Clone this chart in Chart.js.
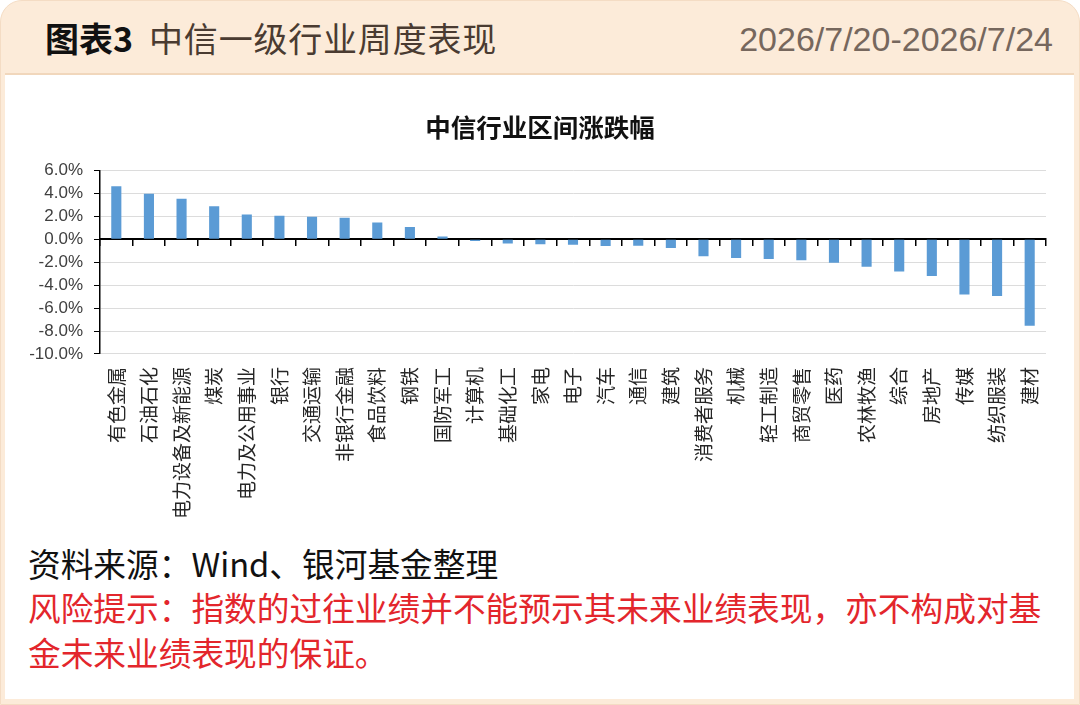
<!DOCTYPE html>
<html>
<head>
<meta charset="utf-8">
<script src="https://cdn.jsdelivr.net/npm/chart.js@4"></script>
<style>
  html, body { margin: 0; padding: 0; background: #fff; }
  #page { position: relative; width: 1080px; height: 705px; overflow: hidden; background: #fff; }
  #card { position: absolute; left: 0; top: 0; width: 1080px; height: 705px; background: #fcebd9;
          border-radius: 22px 22px 0 0; box-sizing: border-box; border: 1px solid #f4dcc4; }
  #panel { position: absolute; left: 5px; top: 73px; width: 1069px; height: 624px; background: #fff;
           border-top: 2px solid #f1d7bc; }
  #head-left { position: absolute; left: 45px; top: 15px; font-family: "Noto Sans CJK SC"; font-size: 34px;
               line-height: 46px; color: #4a3b31; letter-spacing: 0.8px; white-space: nowrap; }
  #head-left b { color: #111; font-weight: bold; margin-right: 16px; letter-spacing: 0; }
  #head-right { position: absolute; right: 27px; top: 17px; font-family: "Liberation Sans"; font-size: 34px;
                line-height: 44px; color: #76675d; white-space: nowrap; }
  #chart-box { position: absolute; left: 0; top: 80px; width: 1080px; height: 454px; }
  .foot { position: absolute; left: 28px; font-family: "Noto Sans CJK SC"; font-size: 32.7px; line-height: 44px;
          white-space: nowrap; }
  #src { top: 541px; color: #111; }
  #risk { top: 584px; color: #e3262c; width: 1040px; white-space: normal; line-height: 45px; }
</style>
</head>
<body>
<div id="page">
  <div id="card"></div>
  <div id="panel"></div>
  <div id="head-left"><b>图表3</b>中信一级行业周度表现</div>
  <div id="head-right">2026/7/20-2026/7/24</div>
  <div id="chart-box"><canvas id="c" width="1080" height="454"></canvas></div>
  <div class="foot" id="src">资料来源：Wind、银河基金整理</div>
  <div class="foot" id="risk">风险提示：指数的过往业绩并不能预示其未来业绩表现，亦不构成对基金未来业绩表现的保证。</div>
</div>
<script>
const industries = ["有色金属", "石油石化", "电力设备及新能源", "煤炭", "电力及公用事业", "银行", "交通运输",
  "非银行金融", "食品饮料", "钢铁", "国防军工", "计算机", "基础化工", "家电", "电子", "汽车", "通信", "建筑",
  "消费者服务", "机械", "轻工制造", "商贸零售", "医药", "农林牧渔", "综合", "房地产", "传媒", "纺织服装", "建材"];
const changes = [4.63, 3.97, 3.54, 2.90, 2.17, 2.06, 1.97, 1.89, 1.48, 1.07, 0.26, -0.15, -0.37, -0.43, -0.46,
  -0.58, -0.56, -0.75, -1.48, -1.62, -1.71, -1.83, -2.03, -2.38, -2.81, -3.19, -4.81, -4.93, -7.54];
const yMin = -10;
const yMax = 6;
const yStep = 2;
const chartTitle = "中信行业区间涨跌幅";

Chart.defaults.font.family = "'Noto Sans CJK SC', sans-serif";

new Chart(document.getElementById("c").getContext("2d"), {
  type: "bar",
  data: {
    labels: industries,
    datasets: [{
      data: changes,
      backgroundColor: "#5b9bd5",
      borderWidth: 0,
      barPercentage: 0.31,
      categoryPercentage: 1,
    }],
  },
  options: {
    responsive: false,
    animation: false,
    layout: { padding: { left: 0, right: 0, top: 0, bottom: 10 } },
    plugins: {
      legend: { display: false },
      tooltip: { enabled: false },
      title: {
        display: true,
        text: chartTitle,
        color: "#111",
        font: { size: 25.5, weight: "bold" },
        padding: { top: 32, bottom: 28 },
      },
    },
    scales: {
      x: {
        grid: { display: false },
        border: { display: false },
        ticks: {
          autoSkip: false,
          maxRotation: 90,
          minRotation: 90,
          padding: 5,
          color: "#262626",
          font: { size: 19 },
        },
      },
      x2: {
        type: "category",
        axis: "x",
        labels: industries,
        position: { y: 0 },
        offset: true,
        grid: { drawOnChartArea: false, offset: true, tickLength: 6, color: "#000", lineWidth: 1.5 },
        border: { color: "#000", width: 2 },
        ticks: { display: false },
      },
      y: {
        min: yMin,
        max: yMax,
        afterFit: (scale) => { scale.width = 100; },
        ticks: {
          stepSize: yStep,
          autoSkip: false,
          padding: 11,
          color: "#404040",
          font: { family: "'Liberation Sans'", size: 17 },
          callback: (v) => v.toFixed(1) + "%",
        },
        grid: { color: "#dcdcdc", lineWidth: 1, tickColor: "#000", tickLength: 6 },
        border: { color: "#000", width: 1.5 },
      },
      // empty right-hand gutter so the title centres on the whole canvas
      yRight: {
        type: "linear",
        position: "right",
        afterFit: (scale) => { scale.width = 34; },
        grid: { display: false },
        border: { display: false },
        ticks: { display: false },
      },
    },
  },
});
</script>
</body>
</html>
